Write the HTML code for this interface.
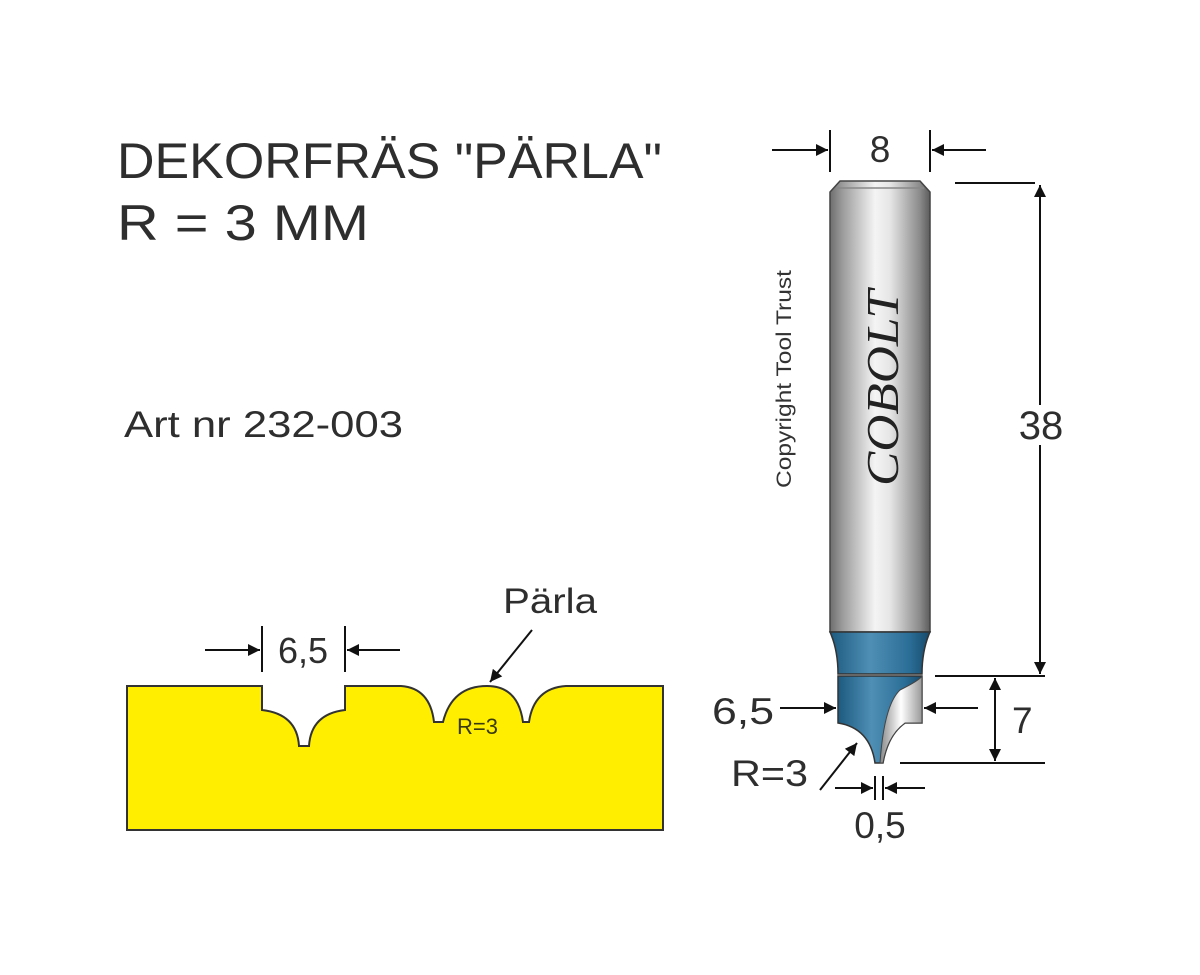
<!DOCTYPE html>
<html><head><meta charset="utf-8"><style>
html,body{margin:0;padding:0;background:#fff;width:1200px;height:975px;overflow:hidden}
</style></head><body>
<svg width="1200" height="975" viewBox="0 0 1200 975" xmlns="http://www.w3.org/2000/svg" font-family="Liberation Sans, Arial, sans-serif">
<defs>
<linearGradient id="sh" x1="0" x2="1" y1="0" y2="0">
<stop offset="0" stop-color="#6e6e6e"/><stop offset="0.12" stop-color="#9a9a9a"/><stop offset="0.45" stop-color="#f4f4f4"/><stop offset="0.6" stop-color="#e6e6e6"/><stop offset="0.9" stop-color="#8a8a8a"/><stop offset="1" stop-color="#5c5c5c"/>
</linearGradient>
<linearGradient id="bl" x1="0" x2="1" y1="0" y2="0">
<stop offset="0" stop-color="#1d5a80"/><stop offset="0.4" stop-color="#4f8fb5"/><stop offset="0.8" stop-color="#2a6d96"/><stop offset="1" stop-color="#17496a"/>
</linearGradient>
<linearGradient id="sv" x1="0" x2="1" y1="0" y2="0">
<stop offset="0" stop-color="#888"/><stop offset="0.5" stop-color="#fff"/><stop offset="1" stop-color="#999"/>
</linearGradient>
<marker id="ar" viewBox="0 0 10 10" refX="10" refY="5" markerWidth="20" markerHeight="12" orient="auto-start-reverse" markerUnits="userSpaceOnUse"><path d="M0,0 L10,5 L0,10z" fill="#111"/></marker>
</defs>
<g fill="#2e2e2e">
<text x="117" y="178" font-size="50" textLength="545" lengthAdjust="spacingAndGlyphs">DEKORFRÄS "PÄRLA"</text>
<text x="117" y="240" font-size="50" textLength="252" lengthAdjust="spacingAndGlyphs">R = 3 MM</text>
<text x="124" y="437" font-size="37" textLength="279" lengthAdjust="spacingAndGlyphs">Art nr 232-003</text>
</g>
<path d="M127,686 L262,686 L262,710 Q297,714 299,746 L309,746 Q311,714 345,710 L345,686 L401,686 Q430,688 434,722 L443,722 Q452,686 487,686 Q518,686 523,722 L529,722 Q534,688 566,686 L663,686 L663,830 L127,830 Z" fill="#ffee00" stroke="#333" stroke-width="2"/>
<text x="457" y="734" font-size="22" fill="#3a3a10">R=3</text>
<g stroke="#111" stroke-width="2" fill="none">
<line x1="262" y1="626" x2="262" y2="672"/><line x1="345" y1="626" x2="345" y2="672"/>
<line x1="205" y1="650" x2="260" y2="650" marker-end="url(#ar)"/>
<line x1="400" y1="650" x2="347" y2="650" marker-end="url(#ar)"/>
<line x1="532" y1="630" x2="490" y2="682" marker-end="url(#ar)"/>
</g>
<text x="278" y="663" font-size="36" fill="#2e2e2e">6,5</text>
<text x="503" y="613" font-size="35" fill="#2e2e2e" textLength="94" lengthAdjust="spacingAndGlyphs">Pärla</text>
<path d="M830,192 L840,181 L920,181 L930,192 L930,632 L830,632 Z" fill="url(#sh)" stroke="#444" stroke-width="1.5"/>
<line x1="836" y1="188" x2="924" y2="188" stroke="#888" stroke-width="1.5"/>
<path d="M830,632 L930,632 Q922,650 922,674 L838,674 Q838,650 830,632 Z" fill="url(#bl)" stroke="#333" stroke-width="1.5"/>
<path d="M838,676 L922,676 L922,723 L905,723 Q888,735 883,763 L875,763 Q870,728 838,723 Z" fill="url(#bl)" stroke="#333" stroke-width="1.5"/>
<path d="M900,690 Q920,680 922,676 L922,723 L905,723 Q888,735 883,763 L880,763 Q884,705 900,690 Z" fill="url(#sv)" stroke="#444" stroke-width="1"/>
<text transform="translate(898,486) rotate(-90)" font-family="Liberation Serif, serif" font-style="italic" font-size="46" fill="#222" textLength="196" lengthAdjust="spacingAndGlyphs">COBOLT</text>
<text transform="translate(791,488) rotate(-90)" font-size="21" fill="#333" textLength="218" lengthAdjust="spacingAndGlyphs">Copyright Tool Trust</text>
<g stroke="#111" stroke-width="2" fill="none">
<line x1="830" y1="130" x2="830" y2="172"/><line x1="930" y1="130" x2="930" y2="172"/>
<line x1="772" y1="150" x2="828" y2="150" marker-end="url(#ar)"/>
<line x1="986" y1="150" x2="932" y2="150" marker-end="url(#ar)"/>
<line x1="955" y1="183" x2="1035" y2="183"/>
<line x1="935" y1="676" x2="1045" y2="676"/>
<line x1="1040" y1="185" x2="1040" y2="674" marker-start="url(#ar)" marker-end="url(#ar)"/>
<line x1="900" y1="763" x2="1045" y2="763"/>
<line x1="995" y1="678" x2="995" y2="761" marker-start="url(#ar)" marker-end="url(#ar)"/>
<line x1="780" y1="708" x2="836" y2="708" marker-end="url(#ar)"/>
<line x1="978" y1="708" x2="924" y2="708" marker-end="url(#ar)"/>
<line x1="820" y1="790" x2="857" y2="743" marker-end="url(#ar)"/>
<line x1="875" y1="776" x2="875" y2="800"/><line x1="883" y1="776" x2="883" y2="800"/>
<line x1="835" y1="788" x2="873" y2="788" marker-end="url(#ar)"/>
<line x1="925" y1="788" x2="885" y2="788" marker-end="url(#ar)"/>
</g>
<rect x="1015" y="405" width="54" height="40" fill="#fff"/>
<g fill="#2e2e2e">
<text x="880" y="162" font-size="37" text-anchor="middle">8</text>
<text x="1041" y="439" font-size="40" text-anchor="middle">38</text>
<text x="1012" y="733" font-size="37">7</text>
<text x="712" y="724" font-size="37" textLength="62" lengthAdjust="spacingAndGlyphs">6,5</text>
<text x="731" y="786" font-size="37" textLength="77" lengthAdjust="spacingAndGlyphs">R=3</text>
<text x="880" y="838" font-size="37" text-anchor="middle">0,5</text>
</g>
</svg>
</body></html>
